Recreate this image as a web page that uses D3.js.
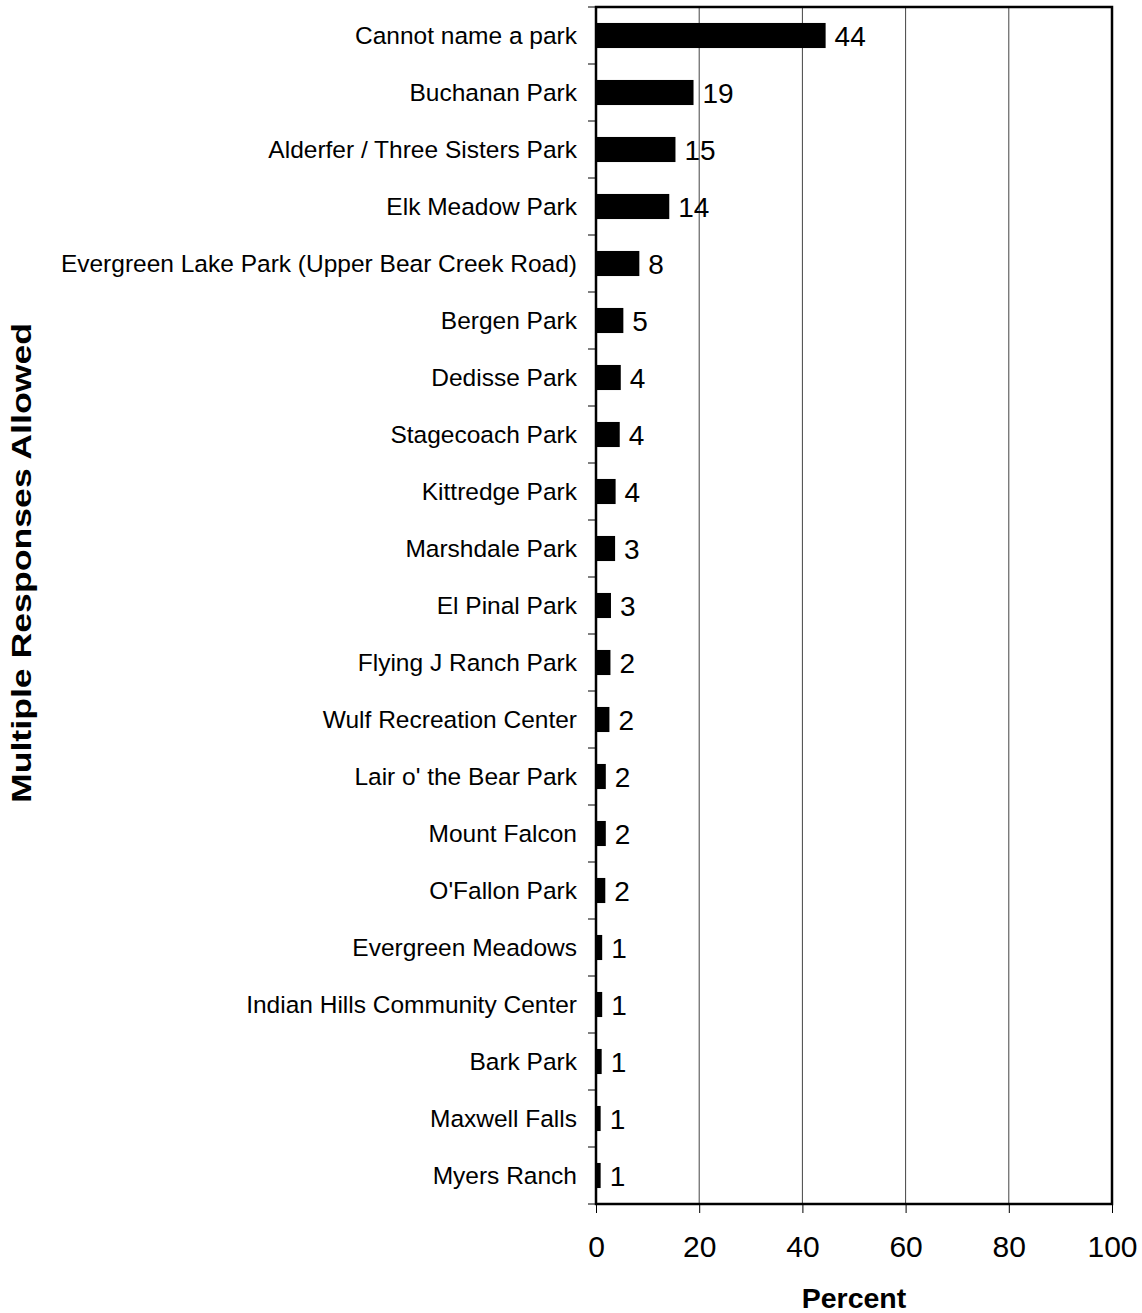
<!DOCTYPE html>
<html>
<head>
<meta charset="utf-8">
<script src="https://cdn.jsdelivr.net/npm/d3@7"></script>
<style>
  body { margin: 0; background: #fff; }
  svg text { font-family: Arial, "Liberation Sans", sans-serif; fill: #000; }
</style>
</head>
<body>
<div id="chart"></div>
<script>
"use strict";

// parks named, in chart order (top to bottom)
const parks = ["Cannot name a park", "Buchanan Park", "Alderfer / Three Sisters Park",
  "Elk Meadow Park", "Evergreen Lake Park (Upper Bear Creek Road)", "Bergen Park",
  "Dedisse Park", "Stagecoach Park", "Kittredge Park", "Marshdale Park", "El Pinal Park",
  "Flying J Ranch Park", "Wulf Recreation Center", "Lair o' the Bear Park", "Mount Falcon",
  "O'Fallon Park", "Evergreen Meadows", "Indian Hills Community Center", "Bark Park",
  "Maxwell Falls", "Myers Ranch"];
// bar lengths (percent)
const percents = [44.5, 18.9, 15.4, 14.2, 8.4, 5.3, 4.8, 4.6, 3.8, 3.7, 2.9,
  2.8, 2.6, 1.9, 1.9, 1.8, 1.2, 1.2, 1.1, 0.9, 0.9];
// printed labels
const shown = [44, 19, 15, 14, 8, 5, 4, 4, 4, 3, 3, 2, 2, 2, 2, 2, 1, 1, 1, 1, 1];
const xTicks = [0, 20, 40, 60, 80, 100];

const width = 1142, height = 1313;
const margin = {top: 7, right: 30, bottom: 109, left: 596};

const svg = d3.select("#chart").append("svg")
  .attr("width", width).attr("height", height);

const x = d3.scaleLinear().domain([0, 100]).range([margin.left, width - margin.right]);
const y = d3.scaleBand().domain(parks).range([margin.top, height - margin.bottom])
  .paddingInner(0.56).paddingOuter(0.28);

// gridlines
svg.append("g").selectAll("line")
  .data(xTicks.slice(1, -1))
  .enter().append("line")
  .attr("x1", d => x(d)).attr("x2", d => x(d))
  .attr("y1", margin.top).attr("y2", height - margin.bottom)
  .attr("stroke", "#444").attr("stroke-width", 1);

// bars
svg.append("g").selectAll("rect")
  .data(parks)
  .enter().append("rect")
  .attr("x", x(0))
  .attr("y", d => y(d))
  .attr("width", (d, i) => x(percents[i]) - x(0))
  .attr("height", y.bandwidth())
  .attr("fill", "#000");

// value labels
svg.append("g").selectAll("text")
  .data(parks)
  .enter().append("text")
  .attr("x", (d, i) => x(percents[i]) + 9)
  .attr("y", d => y(d) + y.bandwidth() / 2)
  .attr("dy", "0.39em")
  .attr("font-size", 28)
  .text((d, i) => shown[i]);

// plot frame
svg.append("rect")
  .attr("x", margin.left).attr("y", margin.top)
  .attr("width", x(100) - x(0)).attr("height", height - margin.bottom - margin.top)
  .attr("fill", "none").attr("stroke", "#000").attr("stroke-width", 2.5);

// y axis with ticks between categories
const yBoundaries = parks.map(p => y(p) - y.step() * y.paddingInner() / 2);
yBoundaries.push(height - margin.bottom);
svg.append("g").selectAll("line")
  .data(yBoundaries)
  .enter().append("line")
  .attr("x1", margin.left - 8).attr("x2", margin.left)
  .attr("y1", d => d).attr("y2", d => d)
  .attr("stroke", "#000").attr("stroke-width", 1);

svg.append("g").selectAll("text")
  .data(parks)
  .enter().append("text")
  .attr("x", margin.left - 19)
  .attr("y", d => y(d) + y.bandwidth() / 2)
  .attr("dy", "0.33em")
  .attr("text-anchor", "end")
  .attr("font-size", 24.5)
  .text(d => d);

// x axis
const xAxis = svg.append("g")
  .attr("transform", `translate(0,${height - margin.bottom})`)
  .call(d3.axisBottom(x).tickValues(xTicks).tickSize(9).tickPadding(23));
xAxis.select(".domain").remove();
xAxis.selectAll("line").attr("stroke", "#000");
xAxis.selectAll("text").attr("font-size", 30).attr("font-family", "Arial, 'Liberation Sans', sans-serif");

svg.append("text")
  .attr("x", x(50)).attr("y", 1308)
  .attr("text-anchor", "middle")
  .attr("font-size", 28.5).attr("font-weight", "bold")
  .text("Percent");

svg.append("text")
  .attr("transform", "translate(31,563) rotate(-90)")
  .attr("text-anchor", "middle")
  .attr("font-size", 27).attr("font-weight", "bold")
  .attr("textLength", 480).attr("lengthAdjust", "spacingAndGlyphs")
  .text("Multiple Responses Allowed");
</script>
</body>
</html>
